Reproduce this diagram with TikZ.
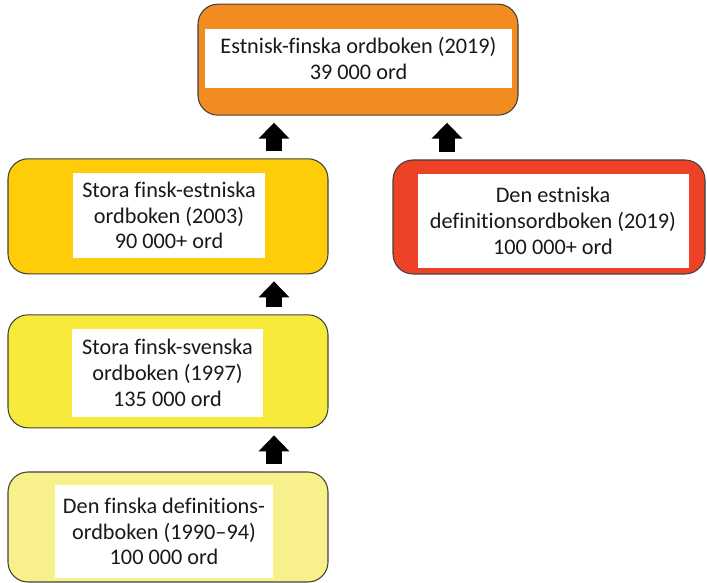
\documentclass[tikz,border=0pt]{standalone}
\usepackage{fontspec}
\setmainfont{Carlito}[Ligatures=NoCommon]
\usepackage{xcolor}
\usetikzlibrary{calc,positioning,arrows.meta}

\definecolor{orangebox}{RGB}{243,140,32}
\definecolor{goldbox}{RGB}{254,204,8}
\definecolor{redbox}{RGB}{238,66,38}
\definecolor{yellowbox}{RGB}{248,234,58}
\definecolor{palebox}{RGB}{248,240,138}
\definecolor{textgray}{RGB}{25,25,25}

\tikzset{
  outer/.style={draw=black!75,line width=0.9pt,rounded corners=0.6cm,
    minimum width=9.6cm,minimum height=3.4cm},
  inner/.style={fill=white,align=center,text=textgray,inner sep=0pt,
    font=\fontsize{19}{22}\selectfont},
  uparrow/.style={line width=0.48cm,-{Triangle[width=0.9cm,length=0.48cm]},
    shorten <=0.21cm,shorten >=0.21cm}
}

\begin{document}
\begin{tikzpicture}
    \useasboundingbox (0,0) rectangle (21.21,17.49);
    % boxes
    \node[outer,fill=orangebox,minimum height=3.33cm] at (10.74,15.7) (ef) {};
    \node[outer,fill=goldbox,minimum height=3.45cm] at (5.04,11.0) (fe) {};
    \node[outer,fill=redbox,minimum width=9.36cm,minimum height=3.42cm] at (16.47,10.98) (ed) {};
    \node[outer,fill=yellowbox,minimum height=3.39cm] at (5.04,6.35) (fs) {};
    \node[outer,fill=palebox,minimum height=3.3cm] at (5.04,1.68) (fd) {};
    % labels
    \node[inner,minimum width=9.21cm,minimum height=1.77cm] at (10.755,15.735) (efl)
      {Estnisk-finska ordboken (2019)\\39 000 ord};
    \node[inner,minimum width=5.76cm,minimum height=2.55cm] at (5.07,11.025) (fel)
      {Stora finsk-estniska\\ordboken (2003)\\90 000+ ord};
    \node[inner,minimum width=8.13cm,minimum height=2.82cm] at (16.59,10.86) (edl)
      {Den estniska\\definitionsordboken (2019)\\100 000+ ord};
    \node[inner,minimum width=5.73cm,minimum height=2.64cm] at (5.025,6.3) (fsl)
      {Stora finsk-svenska\\ordboken (1997)\\135 000 ord};
    \node[inner,minimum width=6.54cm,minimum height=2.79cm] at (4.92,1.545) (fdl)
      {Den finska definitions-\\ordboken (1990--94)\\100 000 ord};
    % arrows
    \draw[uparrow] ([xshift=3.18cm]fe.north) -- ([xshift=3.18cm]fe.north |- ef.south);
    \draw[uparrow] ([xshift=-3.06cm]ed.north) -- ([xshift=-3.06cm]ed.north |- ef.south);
    \draw[uparrow] ([xshift=3.18cm]fs.north) -- ([xshift=3.18cm]fs.north |- fe.south);
    \draw[uparrow] ([xshift=3.18cm]fd.north) -- ([xshift=3.18cm]fd.north |- fs.south);
  \end{tikzpicture}
\end{document}
